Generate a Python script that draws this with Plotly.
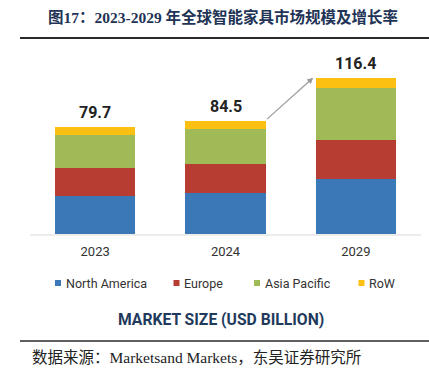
import plotly.graph_objects as go

years = ["2023", "2024", "2029"]
north_america = [28.5, 30.2, 41.1]
europe = [21.0, 22.1, 29.2]
asia_pacific = [24.0, 25.8, 38.5]
row = [6.2, 6.4, 7.6]
totals = [79.7, 84.5, 116.4]

series = [
    ("North America", north_america, "#3a78b8"),
    ("Europe", europe, "#b73d33"),
    ("Asia Pacific", asia_pacific, "#9fba57"),
    ("RoW", row, "#fcc012"),
]

W, H = 429, 382
PL, PR, PT, PB = 30, 421, 50, 234   # plot area in pixels
BARW = 0.614

xpos = list(range(len(years)))

def fx(p):
    return p / W

def fy(p):
    return 1 - p / H

fig = go.Figure()
for name, vals, col in series:
    fig.add_trace(go.Bar(x=xpos, y=vals, name=name, marker_color=col, width=BARW,
                         marker_line_width=0, showlegend=False))

annotations = []
for xp, t in zip(xpos, totals):
    annotations.append(dict(x=xp, y=t, text=f"<b>{t}</b>", showarrow=False,
                            yanchor="bottom", yshift=3,
                            font=dict(family="Roboto", size=16, color="#222222")))

# arrow from 2024 bar top-right to 2029 bar top-left
annotations.append(dict(x=xpos[2] - BARW / 2 - 0.02, y=totals[2],
                        ax=xpos[1] + BARW / 2, ay=totals[1],
                        xref="x", yref="y", axref="x", ayref="y",
                        text="", showarrow=True, arrowhead=2,
                        arrowsize=1, arrowwidth=1.2, arrowcolor="#9a9a9a",
                        startstandoff=0, standoff=0))

# manual legend
legend_items = [("North America", "#3a78b8", 55), ("Europe", "#b73d33", 173.5),
                ("Asia Pacific", "#9fba57", 254), ("RoW", "#fcc012", 358.5)]
shapes = []
for name, col, x0 in legend_items:
    shapes.append(dict(type="rect", xref="paper", yref="paper",
                       x0=fx(x0), x1=fx(x0 + 6), y0=fy(286), y1=fy(280),
                       fillcolor=col, line_width=0))
    annotations.append(dict(xref="paper", yref="paper", x=fx(x0 + 8.5), y=fy(283),
                            text=name, showarrow=False, xanchor="left", yanchor="middle",
                            font=dict(family="Roboto", size=12.5, color="#333333")))

annotations.append(dict(xref="paper", yref="paper", x=fx(221), y=fy(319.5),
                        text="<b>MARKET SIZE (USD BILLION)</b>", showarrow=False,
                        xanchor="center", yanchor="middle",
                        font=dict(family="Roboto", size=15.7, color="#1f3a5c")))

annotations.append(dict(xref="paper", yref="paper", x=fx(223), y=fy(17),
                        text="<b>图17：2023-2029 年全球智能家具市场规模及增长率</b>",
                        showarrow=False, xanchor="center", yanchor="middle",
                        font=dict(family="Liberation Serif, Noto Sans CJK SC", size=15.5,
                                  color="#1f3456")))

annotations.append(dict(xref="paper", yref="paper", x=fx(30), y=fy(357),
                        text="数据来源：Marketsand Markets，东吴证券研究所",
                        showarrow=False, xanchor="left", yanchor="middle",
                        font=dict(family="Liberation Serif, Noto Sans CJK SC", size=15.5,
                                  color="#222222")))

# horizontal rules (paper now spans the whole figure)
for yc, th in [(38, 2.2), (341, 1.6)]:
    shapes.append(dict(type="rect", xref="paper", yref="paper",
                       x0=fx(20), x1=1.0, y0=fy(yc + th / 2), y1=fy(yc - th / 2),
                       fillcolor="#2a2a2a", line_width=0, layer="above"))

fig.update_layout(
    width=W, height=H,
    margin=dict(l=0, r=0, t=0, b=0, pad=0),
    barmode="stack",
    plot_bgcolor="white", paper_bgcolor="white",
    annotations=annotations, shapes=shapes,
    showlegend=False,
    xaxis=dict(domain=[fx(PL), fx(PR)], range=[-0.5, len(years) - 0.5],
               tickvals=xpos, ticktext=years, automargin=False,
               showline=True, linecolor="#ececec", linewidth=1.5,
               ticks="", showgrid=False, zeroline=False, ticklabelstandoff=5,
               tickfont=dict(family="Roboto", size=13, color="#333333")),
    yaxis=dict(domain=[fy(PB), fy(PT)], range=[0, 137], visible=False,
               showgrid=False, automargin=False),
)

fig.write_html("out.html", config={"displayModeBar": False},
               post_script="document.body.style.margin='0';document.body.style.padding='0';")
